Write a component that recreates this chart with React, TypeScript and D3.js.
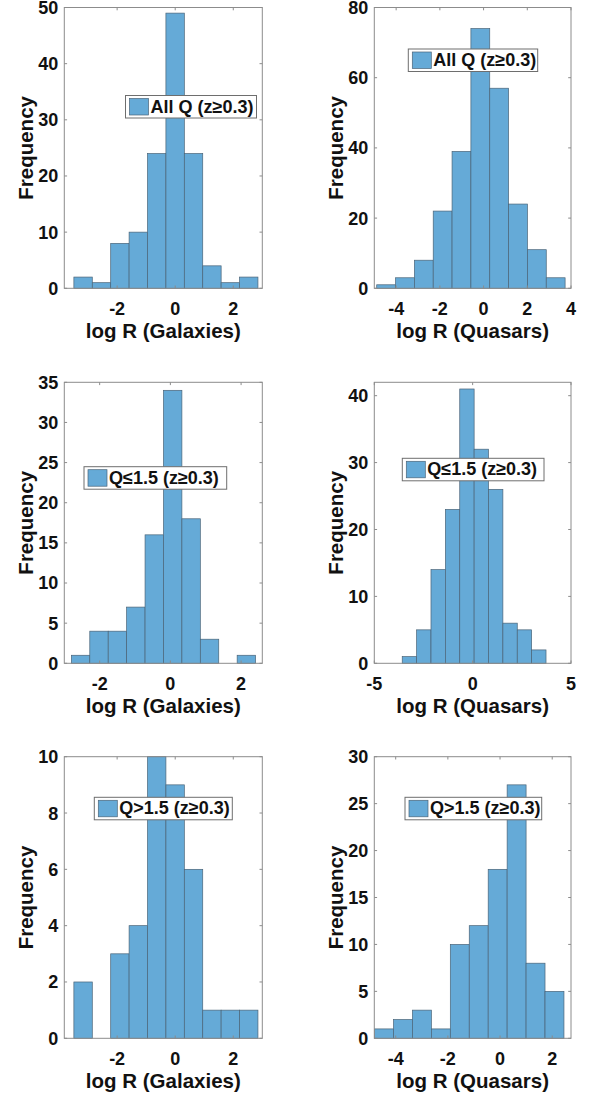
import React from "react";
import * as d3 from "d3";

// ---- data ----
const galAllStart = -3.49;
const galAllWidth = 0.634;
const galAllCounts = [2, 1, 8, 10, 24, 49, 24, 4, 1, 2];

const quaAllStart = -4.89;
const quaAllWidth = 0.862;
const quaAllCounts = [1, 3, 8, 22, 39, 74, 57, 24, 11, 3];

const galLowStart = -2.8;
const galLowWidth = 0.521;
const galLowCounts = [1, 4, 4, 7, 16, 34, 18, 3, 0, 1];

const quaLowStart = -3.58;
const quaLowWidth = 0.731;
const quaLowCounts = [1, 5, 14, 23, 41, 32, 26, 6, 5, 2];

const galHighStart = -3.49;
const galHighWidth = 0.634;
const galHighCounts = [2, 0, 3, 4, 10, 9, 6, 1, 1, 1];

const quaHighStart = -4.81;
const quaHighWidth = 0.726;
const quaHighCounts = [1, 2, 3, 1, 10, 12, 18, 27, 8, 5];

const xTicksGal = [-2, 0, 2];
const xTicksQuaAll = [-4, -2, 0, 2, 4];
const xTicksQuaLow = [-5, 0, 5];
const xTicksQuaHigh = [-4, -2, 0, 2];

const yTicksAll1 = [0, 10, 20, 30, 40, 50];
const yTicksAll2 = [0, 20, 40, 60, 80];
const yTicksLow1 = [0, 5, 10, 15, 20, 25, 30, 35];
const yTicksLow2 = [0, 10, 20, 30, 40];
const yTicksHigh1 = [0, 2, 4, 6, 8, 10];
const yTicksHigh2 = [0, 5, 10, 15, 20, 25, 30];

const legendAll = "All Q (z\u22650.3)";
const legendLow = "Q\u22641.5 (z\u22650.3)";
const legendHigh = "Q>1.5 (z\u22650.3)";
const xLabelGal = "log R (Galaxies)";
const xLabelQua = "log R (Quasars)";
const yLabel = "Frequency";

// ---- layout ----
const FONT = "'Liberation Sans', Arial, Helvetica, sans-serif";
const FILL = "#65aad7";
const EDGE = "#4a6478";
const AXIS = "#8c8c8c";

type Panel = {
  x0: number; x1: number; y0: number; y1: number;
  xDomain: [number, number]; yDomain: [number, number];
  start: number; width: number; counts: number[];
  xTicks: number[]; yTicks: number[];
  legend: string; lx: number; ly: number; lw: number;
  xLabel: string;
};

const panels: Panel[] = [
  { x0: 64.3, x1: 262.3, y0: 7.5, y1: 288.3, xDomain: [-3.82, 3.0], yDomain: [0, 50],
    start: galAllStart, width: galAllWidth, counts: galAllCounts, xTicks: xTicksGal, yTicks: yTicksAll1,
    legend: legendAll, lx: 125.5, ly: 95.5, lw: 131, xLabel: xLabelGal },
  { x0: 374.3, x1: 571, y0: 7.5, y1: 288.3, xDomain: [-5, 4], yDomain: [0, 80],
    start: quaAllStart, width: quaAllWidth, counts: quaAllCounts, xTicks: xTicksQuaAll, yTicks: yTicksAll2,
    legend: legendAll, lx: 408.3, ly: 49, lw: 129.4, xLabel: xLabelQua },
  { x0: 64.3, x1: 262.3, y0: 382.3, y1: 663.3, xDomain: [-3.0, 2.6], yDomain: [0, 35],
    start: galLowStart, width: galLowWidth, counts: galLowCounts, xTicks: xTicksGal, yTicks: yTicksLow1,
    legend: legendLow, lx: 84, ly: 466.7, lw: 142.7, xLabel: xLabelGal },
  { x0: 374.3, x1: 571, y0: 382.3, y1: 663.3, xDomain: [-5, 5], yDomain: [0, 42],
    start: quaLowStart, width: quaLowWidth, counts: quaLowCounts, xTicks: xTicksQuaLow, yTicks: yTicksLow2,
    legend: legendLow, lx: 402.3, ly: 458.3, lw: 141.7, xLabel: xLabelQua },
  { x0: 64.3, x1: 262.3, y0: 756.7, y1: 1038.3, xDomain: [-3.82, 3.0], yDomain: [0, 10],
    start: galHighStart, width: galHighWidth, counts: galHighCounts, xTicks: xTicksGal, yTicks: yTicksHigh1,
    legend: legendHigh, lx: 94.3, ly: 797.3, lw: 138, xLabel: xLabelGal },
  { x0: 374.3, x1: 571, y0: 756.7, y1: 1038.3, xDomain: [-4.82, 2.72], yDomain: [0, 30],
    start: quaHighStart, width: quaHighWidth, counts: quaHighCounts, xTicks: xTicksQuaHigh, yTicks: yTicksHigh2,
    legend: legendHigh, lx: 405, ly: 797.3, lw: 136.7, xLabel: xLabelQua },
];

function Hist({ p }: { p: Panel }) {
  const x = d3.scaleLinear().domain(p.xDomain).range([p.x0, p.x1]);
  const y = d3.scaleLinear().domain(p.yDomain).range([p.y1, p.y0]);
  const bins = p.counts.map((c, i) => ({ a: p.start + i * p.width, b: p.start + (i + 1) * p.width, c }));
  const tl = 2.8;
  const cx = (p.x0 + p.x1) / 2;
  const cy = (p.y0 + p.y1) / 2;
  const lh = 22.5;
  return (
    <g>
      {bins.filter((d) => d.c > 0).map((d, i) => (
        <rect key={i} x={x(d.a)} y={y(d.c)} width={x(d.b) - x(d.a)} height={y(0) - y(d.c)}
          fill={FILL} stroke={EDGE} strokeWidth={0.7} />
      ))}
      <rect x={p.x0} y={p.y0} width={p.x1 - p.x0} height={p.y1 - p.y0} fill="none" stroke={AXIS} strokeWidth={1} />
      {p.xTicks.map((t) => (
        <g key={"xt" + t}>
          <line x1={x(t)} x2={x(t)} y1={p.y1} y2={p.y1 - tl} stroke={AXIS} />
          <line x1={x(t)} x2={x(t)} y1={p.y0} y2={p.y0 + tl} stroke={AXIS} />
          <text x={x(t)} y={p.y1 + 27} textAnchor="middle" fontFamily={FONT} fontWeight="bold" fontSize={18} fill="#111">
            {t < 0 ? "-" + Math.abs(t) : String(t)}
          </text>
        </g>
      ))}
      {p.yTicks.map((t) => (
        <g key={"yt" + t}>
          <line x1={p.x0} x2={p.x0 + tl} y1={y(t)} y2={y(t)} stroke={AXIS} />
          <line x1={p.x1} x2={p.x1 - tl} y1={y(t)} y2={y(t)} stroke={AXIS} />
          <text x={p.x0 - 6} y={y(t)} dy="0.36em" textAnchor="end" fontFamily={FONT} fontWeight="bold" fontSize={18} fill="#111">
            {t}
          </text>
        </g>
      ))}
      <text x={cx} y={p.y1 + 50} textAnchor="middle" fontFamily={FONT} fontWeight="bold" fontSize={20.5} fill="#111">
        {p.xLabel}
      </text>
      <text transform={`translate(${p.x0 - 31.5},${cy}) rotate(-90)`} textAnchor="middle" fontFamily={FONT}
        fontWeight="bold" fontSize={20.5} fill="#111">
        {yLabel}
      </text>
      <g>
        <rect x={p.lx} y={p.ly} width={p.lw} height={lh} fill="#fff" stroke="#6e6e6e" strokeWidth={1} />
        <rect x={p.lx + 4} y={p.ly + 3} width={19} height={16.5} fill={FILL} stroke={EDGE} strokeWidth={0.7} />
        <text x={p.lx + 25} y={p.ly + 17} fontFamily={FONT} fontWeight="bold" fontSize={18} fill="#111">
          {p.legend}
        </text>
      </g>
    </g>
  );
}

export default function App() {
  return (
    <svg width={590} height={1099} style={{ position: "absolute", left: 0, top: 0, background: "#fff" }}>
      <rect x={0} y={0} width={590} height={1099} fill="#fff" />
      {panels.map((p, i) => (
        <Hist key={i} p={p} />
      ))}
    </svg>
  );
}
